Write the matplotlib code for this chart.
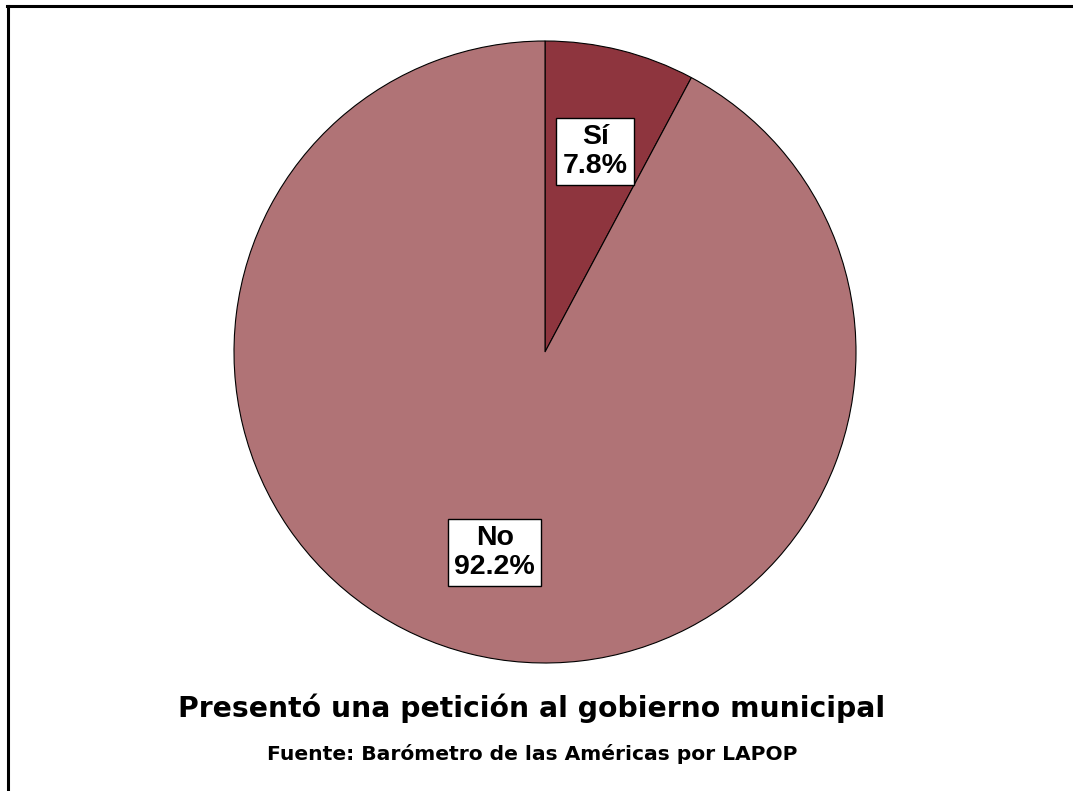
import matplotlib.pyplot as plt
from matplotlib.lines import Line2D

# data
categories = ['Sí', 'No']
values = [7.8, 92.2]
colors = ['#8e353e', '#b07376']

W, H = 1073, 791
fig = plt.figure(figsize=(W / 100, H / 100), dpi=100)

# pie axes: centre (545,352) px, radius 311 px
cx, cy, r = 545, 352, 311
ax = fig.add_axes([(cx - r) / W, (H - cy - r) / H, 2 * r / W, 2 * r / H])

labels = ['%s\n%.1f%%' % (c, v) for c, v in zip(categories, values)]
wedges, texts = ax.pie(values, colors=colors, startangle=90, counterclock=False,
                       labels=labels, labeldistance=0.665,
                       wedgeprops=dict(edgecolor='black', linewidth=0.8),
                       textprops=dict(fontsize=20.5, fontweight='bold', ha='center', va='center',
                                      family=['Liberation Sans', 'DejaVu Sans'],
                                      linespacing=1.12))
for t in texts:
    t.set_horizontalalignment('center')
    t.set_bbox(dict(boxstyle='square,pad=0.22', facecolor='white', edgecolor='black', linewidth=1))
ax.set_xlim(-1, 1)
ax.set_ylim(-1, 1)
ax.set_aspect('equal')
ax.axis('off')

fig.text(532 / W, 1 - 717 / H, 'Presentó una petición al gobierno municipal',
         ha='center', va='baseline', fontsize=20.3, fontweight='bold', family='DejaVu Sans')
fig.text(532 / W, 1 - 760 / H, 'Fuente: Barómetro de las Américas por LAPOP',
         ha='center', va='baseline', fontsize=14.6, fontweight='bold', family='DejaVu Sans')

# frame: only top and left edges visible
fig.add_artist(Line2D([7.5 / W, 7.5 / W], [0, 1 - 5.5 / H], transform=fig.transFigure,
                      color='black', linewidth=2.2))
fig.add_artist(Line2D([6.5 / W, 1], [1 - 5.5 / H, 1 - 5.5 / H], transform=fig.transFigure,
                      color='black', linewidth=2.2))

fig.savefig('out.png', dpi=100)
